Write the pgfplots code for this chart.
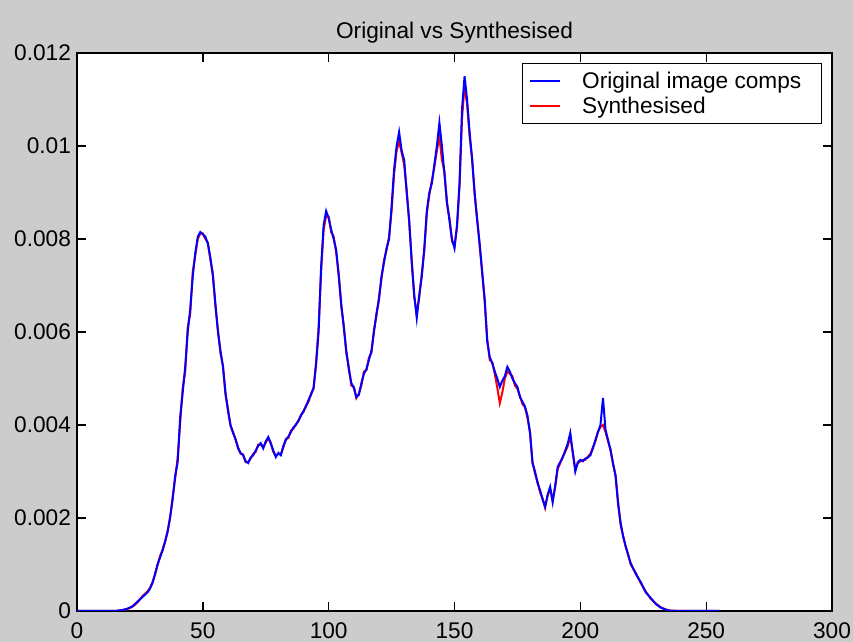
\documentclass[border=0pt]{standalone}
\usepackage{pgfplots}
\usepackage{pgfplotstable}
\pgfplotsset{compat=1.18}
\usepackage{fontspec}
\setmainfont{Liberation Sans}
\definecolor{mgray}{RGB}{204,204,204}

\pgfplotstableread{
x y
0 0
5 0
10 0
15 0
18 0.00002
20 0.00005
22 0.00010
24 0.00020
26 0.00030
28 0.00040
29 0.00048
30 0.00060
31 0.00080
32 0.00100
33 0.00115
34 0.00130
35 0.00150
36 0.00170
37 0.00202
38 0.00240
39 0.00290
40 0.00320
41 0.00417
42 0.00470
43 0.00525
44 0.00600
45 0.00650
46 0.00720
47 0.00770
48 0.00805
49 0.00815
50 0.00810
51 0.00805
52 0.00790
53 0.00760
54 0.00720
55 0.00660
56 0.00600
57 0.00560
58 0.00525
59 0.00470
60 0.00430
61 0.00400
62 0.00383
63 0.00370
64 0.00350
65 0.00340
66 0.00335
67 0.00322
68 0.00318
69 0.00330
70 0.00335
71 0.00345
72 0.00355
73 0.00361
74 0.00350
75 0.00365
76 0.00374
77 0.00360
78 0.00345
79 0.00331
80 0.00340
81 0.00335
82 0.00355
83 0.00368
84 0.00375
85 0.00385
86 0.00395
87 0.00400
88 0.00410
89 0.00420
90 0.00430
91 0.00440
92 0.00454
93 0.00465
94 0.00480
95 0.00530
96 0.00600
97 0.00740
98 0.00830
99 0.00860
100 0.00845
101 0.00820
102 0.00800
103 0.00776
104 0.00720
105 0.00660
106 0.00610
107 0.00560
108 0.00520
109 0.00490
110 0.00480
111 0.00460
112 0.00465
113 0.00490
114 0.00510
115 0.00520
116 0.00540
117 0.00560
118 0.00600
119 0.00640
120 0.00670
121 0.00720
122 0.00750
123 0.00780
124 0.00800
125 0.00870
126 0.00950
127 0.01000
128 0.01030
129 0.00990
130 0.00970
131 0.00900
132 0.00840
133 0.00750
134 0.00680
135 0.00630
136 0.00680
137 0.00720
138 0.00780
139 0.00860
140 0.00900
141 0.00920
142 0.00960
143 0.01000
144 0.01050
145 0.01000
146 0.00940
147 0.00880
148 0.00840
149 0.00800
150 0.00780
151 0.00830
152 0.00920
153 0.01080
154 0.01150
155 0.01100
156 0.01030
157 0.00970
158 0.00900
159 0.00840
160 0.00790
161 0.00727
162 0.00670
163 0.00580
164 0.00546
165 0.00533
166 0.00515
167 0.00500
168 0.00482
169 0.00495
170 0.00505
171 0.00525
172 0.00515
173 0.00500
174 0.00490
175 0.00482
176 0.00460
177 0.00450
178 0.00440
179 0.00420
180 0.00383
181 0.00318
182 0.00300
183 0.00275
184 0.00260
185 0.00240
186 0.00224
187 0.00250
188 0.00267
189 0.00234
190 0.00270
191 0.00310
192 0.00320
193 0.00330
194 0.00345
195 0.00360
196 0.00383
197 0.00340
198 0.00300
199 0.00320
200 0.00325
201 0.00322
202 0.00328
203 0.00330
204 0.00335
205 0.00350
206 0.00368
207 0.00385
208 0.00400
209 0.00458
210 0.00390
211 0.00368
212 0.00345
213 0.00318
214 0.00290
215 0.00230
216 0.00190
217 0.00160
218 0.00140
219 0.00120
220 0.00103
222 0.00080
224 0.00062
226 0.00040
228 0.00028
230 0.00015
232 0.00007
234 0.00003
236 0
240 0
245 0
250 0
255 0
}\orig

\pgfplotstableread{
x y
0 0
5 0
10 0
15 0
18 0.00002
20 0.00004
22 0.00009
24 0.00018
26 0.00032
28 0.00042
29 0.00050
30 0.00062
31 0.00078
32 0.00098
33 0.00118
34 0.00132
35 0.00148
36 0.00172
37 0.00200
38 0.00245
39 0.00285
40 0.00330
41 0.00405
42 0.00480
43 0.00515
44 0.00610
45 0.00640
46 0.00730
47 0.00765
48 0.00800
49 0.00812
50 0.00812
51 0.00800
52 0.00792
53 0.00755
54 0.00725
55 0.00655
56 0.00605
57 0.00555
58 0.00528
59 0.00465
60 0.00435
61 0.00398
62 0.00385
63 0.00368
64 0.00352
65 0.00338
66 0.00337
67 0.00320
68 0.00320
69 0.00328
70 0.00338
71 0.00342
72 0.00358
73 0.00358
74 0.00352
75 0.00362
76 0.00372
77 0.00362
78 0.00342
79 0.00334
80 0.00338
81 0.00337
82 0.00352
83 0.00370
84 0.00372
85 0.00388
86 0.00392
87 0.00402
88 0.00408
89 0.00422
90 0.00428
91 0.00442
92 0.00450
93 0.00468
94 0.00478
95 0.00535
96 0.00610
97 0.00730
98 0.00820
99 0.00850
100 0.00848
101 0.00815
102 0.00805
103 0.00770
104 0.00725
105 0.00655
106 0.00615
107 0.00555
108 0.00525
109 0.00485
110 0.00482
111 0.00458
112 0.00468
113 0.00485
114 0.00515
115 0.00518
116 0.00545
117 0.00555
118 0.00605
119 0.00635
120 0.00675
121 0.00715
122 0.00755
123 0.00776
124 0.00805
125 0.00860
126 0.00940
127 0.00990
128 0.01010
129 0.00985
130 0.00960
131 0.00905
132 0.00835
133 0.00755
134 0.00675
135 0.00640
136 0.00675
137 0.00725
138 0.00775
139 0.00855
140 0.00895
141 0.00925
142 0.00955
143 0.00990
144 0.01020
145 0.00970
146 0.00945
147 0.00875
148 0.00845
149 0.00795
150 0.00785
151 0.00825
152 0.00915
153 0.01060
154 0.01130
155 0.01090
156 0.01020
157 0.00975
158 0.00895
159 0.00845
160 0.00785
161 0.00730
162 0.00665
163 0.00585
164 0.00540
165 0.00535
166 0.00510
167 0.00480
168 0.00447
169 0.00470
170 0.00500
171 0.00515
172 0.00510
173 0.00505
174 0.00485
175 0.00478
176 0.00462
177 0.00445
178 0.00438
179 0.00415
180 0.00385
181 0.00320
182 0.00295
183 0.00278
184 0.00255
185 0.00242
186 0.00222
187 0.00248
188 0.00262
189 0.00238
190 0.00265
191 0.00305
192 0.00318
193 0.00332
194 0.00342
195 0.00355
196 0.00375
197 0.00342
198 0.00305
199 0.00318
200 0.00322
201 0.00325
202 0.00325
203 0.00332
204 0.00338
205 0.00352
206 0.00365
207 0.00385
208 0.00396
209 0.00400
210 0.00385
211 0.00365
212 0.00348
213 0.00315
214 0.00292
215 0.00235
216 0.00185
217 0.00162
218 0.00138
219 0.00122
220 0.00100
222 0.00082
224 0.00060
226 0.00042
228 0.00026
230 0.00016
232 0.00008
234 0.00003
236 0.00001
240 0
245 0
250 0
255 0
}\synth

\begin{document}
\begin{tikzpicture}[font=\fontsize{17}{20}\selectfont]
\useasboundingbox (0,0) rectangle (639.75pt,481.5pt);
\fill[mgray] (0,0) rectangle (639.75pt,481.5pt);
\begin{axis}[
  at={(57.75pt,23.25pt)}, anchor=south west,
  scale only axis, width=566.25pt, height=418.5pt,
  xmin=0, xmax=300, ymin=0, ymax=0.012,
  axis background/.style={fill=white},
  scaled y ticks=false, scaled x ticks=false,
  xtick={0,50,100,150,200,250,300},
  xticklabels={0,50,100,150,200,250,300},
  ytick={0,0.002,0.004,0.006,0.008,0.01,0.012},
  yticklabels={0,0.002,0.004,0.006,0.008,0.01,0.012},
  tick align=inside, major tick length=6.75pt,
  xtick pos=both, ytick pos=both,
  axis line style={line width=1.2pt},
  every tick/.style={black, line width=1pt},
  tick label style={font=\fontsize{17}{20}\selectfont},
  xticklabel style={yshift=-5pt},
  yticklabel style={xshift=-1pt},
  title={Original vs Synthesised},
  title style={at={(0.5,1)}, anchor=base, yshift=5pt, font=\fontsize{17}{20}\selectfont},
  legend style={at={(1,1)}, anchor=north east, xshift=-7.5pt, yshift=-7.5pt,
    draw=black, line width=1pt, fill=white,
    font=\fontsize{17}{20}\selectfont,
    inner xsep=5pt, inner ysep=4pt, row sep=1pt,
    nodes={inner sep=2pt}},
  legend cell align=left,
  legend image code/.code={\path[draw=none, fill=none] (0pt,0pt) -- (37pt,0pt); \draw[#1, line width=1.2pt] (0pt,0pt) -- (22.5pt,0pt);},
]
\addplot[red, line width=1.5pt, forget plot] table[x=x,y=y] {\synth};
\addplot[blue, line width=1.5pt] table[x=x,y=y] {\orig};
\addlegendentry{Original image comps\rule{8pt}{0pt}}
\addlegendimage{red, line width=1.2pt}
\addlegendentry{Synthesised}
\end{axis}
\end{tikzpicture}
\end{document}
